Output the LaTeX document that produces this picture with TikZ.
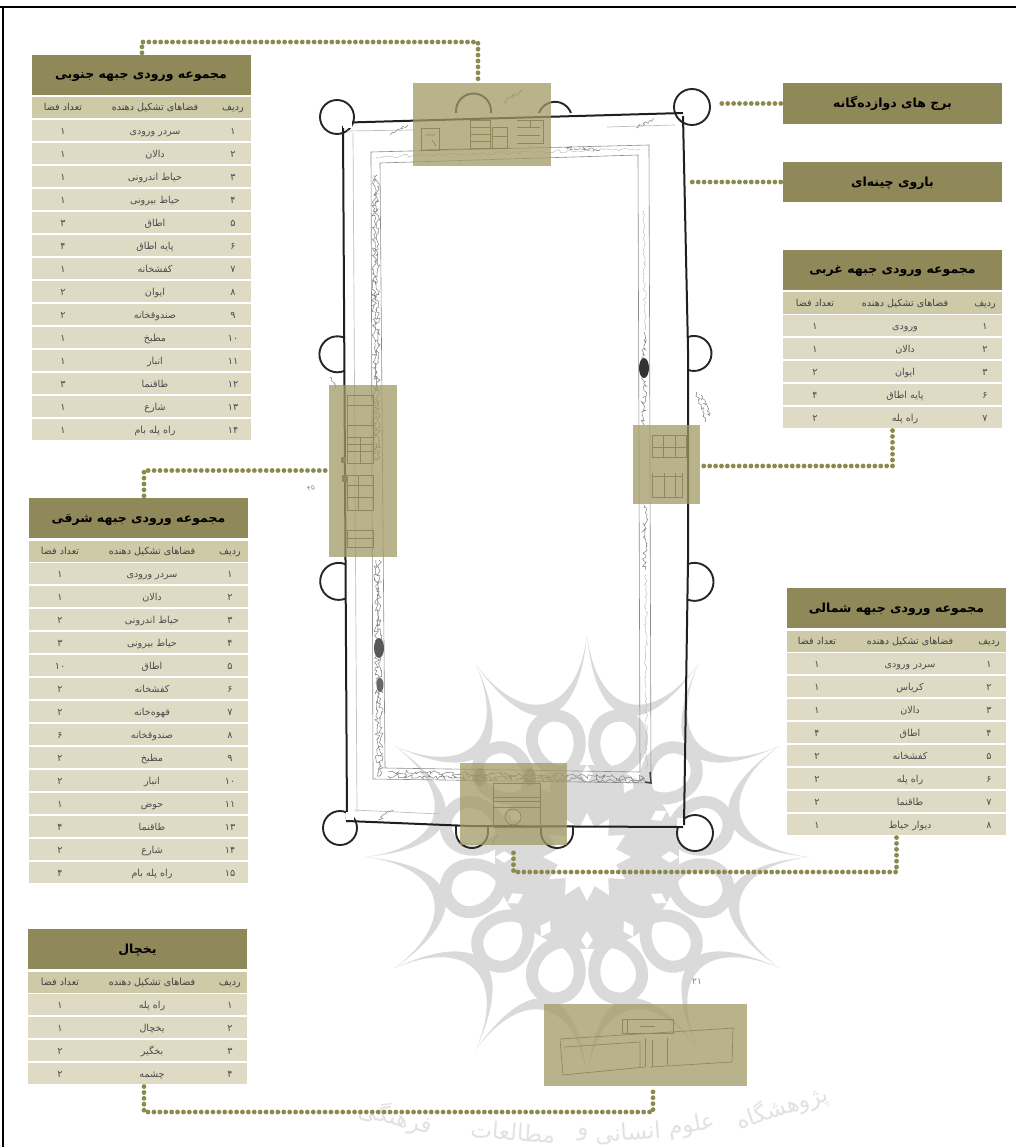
\documentclass[tikz,border=0pt]{standalone}
\usepackage{fontspec}
\usetikzlibrary{decorations.pathmorphing,calc}
\TeXXeTstate=1
\newfontfamily\arabicfont[Script=Arabic]{DejaVu Sans}
\newcommand\fa[1]{{\arabicfont #1}}
\definecolor{titleol}{HTML}{8F8858}
\definecolor{headol}{HTML}{CEC9A7}
\definecolor{rowol}{HTML}{DFDAC4}
\definecolor{hiol}{HTML}{A29A66}
\definecolor{dotol}{HTML}{8B8A4E}
\definecolor{wm}{HTML}{DADADA}
\definecolor{wmt}{HTML}{E2E2E2}
\definecolor{plan}{HTML}{55553A}
\tikzset{
 titlebox/.style={fill=titleol,minimum width=219pt,minimum height=40pt,inner sep=0pt},
 titletxt/.style={inner sep=0pt,anchor=base,text=black,font=\fontsize{12.5}{14}\selectfont\bfseries},
 headbox/.style={fill=headol,minimum width=219pt,minimum height=21pt,inner sep=0pt},
 rowbox/.style={fill=rowol,minimum width=219pt,minimum height=21.3pt,inner sep=0pt},
 headtxt/.style={inner sep=0pt,anchor=base,text=black!75,font=\fontsize{9.6}{11}\selectfont},
 celltxt/.style={inner sep=0pt,anchor=base,text=black!70,font=\fontsize{9.6}{11}\selectfont},
 hibox/.style={fill=hiol,fill opacity=.75,inner sep=0pt},
 dots/.style={draw=dotol,line width=4.8pt,dash pattern=on 0pt off 5.9pt,line cap=round,shorten <=2pt,shorten >=2pt},
 wall/.style={draw=black!88,line width=2pt},
 tower/.style={draw=black!85,line width=1.9pt},
 faint/.style={draw=black!25,line width=.7pt},
 thin wall/.style={draw=black!45,line width=.6pt},
 hatch/.style={draw=black!50,line width=.5pt,decorate,decoration={random steps,segment length=2pt,amplitude=2.6pt}},
 hatchlt/.style={draw=black!28,line width=.4pt,decorate,decoration={random steps,segment length=3pt,amplitude=1.6pt}},
 scrib/.style={draw=black!50,line width=.5pt,decorate,decoration={random steps,segment length=1.8pt,amplitude=1.8pt}},
 planline/.style={draw=plan,line width=.7pt},
 wmw/.style={inner sep=0pt,text=wmt,font=\fontsize{23}{27}\selectfont},
}
\newcommand\ptable[8]{%
 \node[titlebox] (#1t) at (#2,#3+20) {};
 \node[titletxt] (#1tt) at (#2,#3+24) {\fa{#7}};
 \node[headbox] (#1h) at (#2,#3+53) {};
 \node[headtxt] (#1hr) at (#4,#3+56) {\fa{\beginR ردیف\endR}};
 \node[headtxt] (#1hm) at (#5,#3+56) {\fa{\beginR فضاهای تشکیل دهنده\endR}};
 \node[headtxt] (#1hc) at (#6,#3+56) {\fa{\beginR تعداد فضا\endR}};
 \foreach \nm/\lb/\ct [count=\ii] in {#8} {
  \pgfmathsetmacro\yy{#3+65+10.7+23*(\ii-1)}
  \pgfmathsetmacro\yb{\yy+3.4}
  \node[rowbox] (#1r\ii) at (#2,\yy) {};
  \node[celltxt] (#1a\ii) at (#4,\yb) {\fa{\nm}};
  \node[celltxt] (#1b\ii) at (#5,\yb) {\fa{\lb}};
  \node[celltxt] (#1c\ii) at (#6,\yb) {\fa{\ct}};
 }%
}
\begin{document}
\begin{tikzpicture}[x=1pt,y=-1pt]
\pgfmathsetseed{11}
\useasboundingbox (0,0) rectangle (1016,1147);
\clip (0,0) rectangle (1016,1147);
\fill[white] (0,0) rectangle (1016,1147);
% watermark rosette
\begin{scope}[shift={(587,857)}]
 \fill[wm] (0,0) circle (92);
 \foreach \k in {0,...,11}{
  \pgfmathsetmacro\ma{30*\k+15}
  \pgfmathsetmacro\mb{\ma-15}
  \pgfmathsetmacro\mc{\ma+15}
  \pgfmathsetmacro\md{\mb+4}
  \pgfmathsetmacro\me{\mc-4}
  \pgfmathsetmacro\pa{\ma-16}
  \pgfmathsetmacro\pb{\ma+16}
  \pgfmathsetmacro\pc{\ma-14}
  \pgfmathsetmacro\pd{\ma+14}
  \draw[wm,line width=12pt,fill=white,line join=round] (\ma:88) .. controls (\pa:100) and (\pc:146) .. (\ma:146) .. controls (\pd:146) and (\pb:100) .. (\ma:88) -- cycle;
  \fill[wm] (\mb:222) .. controls (\md:143) and (\me:143) .. (\mc:222) .. controls (\me:127) and (\md:127) .. (\mb:222) -- cycle;
 }
 \foreach \k in {0,...,11}{
  \pgfmathsetmacro\ma{30*\k}
  \pgfmathsetmacro\mb{\ma-4}
  \pgfmathsetmacro\mc{\ma+4}
  \fill[white] (\ma:74) -- (\mb:83) -- (\ma:92) -- (\mc:83) -- cycle;
 }
 \fill[white] (0:44)
  \foreach \k in {1,...,24}{ -- ({15*\k}:{mod(\k,2)==0 ? 44 : 30}) } -- cycle;
\end{scope}
\node[wmw,rotate=18] (w1) at (782,1108) {\fa{پژوهشگاه}};
\node[wmw,rotate=10] (w2) at (692,1126) {\fa{علوم}};
\node[wmw,rotate=4] (w3) at (628,1133) {\fa{انسانی}};
\node[wmw] (w4) at (583,1135) {\fa{و}};
\node[wmw,rotate=-4] (w5) at (513,1132) {\fa{مطالعات}};
\node[wmw,rotate=-14] (w6) at (396,1118) {\fa{فرهنگی}};
% frame
\draw[black,line width=2.6pt] (0,7) -- (1016,7);
\draw[black,line width=2.4pt] (3,7) -- (3,1147);
% towers
\node[tower,circle,fill=white,minimum size=34pt,inner sep=0pt] (tTL) at (337,117) {};
\node[tower,circle,fill=white,minimum size=36pt,inner sep=0pt] (tTR) at (692,107) {};
\node[tower,circle,fill=white,minimum size=34pt,inner sep=0pt] (tBL) at (340,828) {};
\node[tower,circle,fill=white,minimum size=36pt,inner sep=0pt] (tBR) at (695,833) {};
\draw[tower] (345,338) arc[start angle=-65,end angle=-295,radius=18] ;
\draw[tower] (345,564) arc[start angle=-70,end angle=-290,radius=18.5];
\draw[tower] (688,337) arc[start angle=-110,end angle=110,radius=17.5];
\draw[tower] (688,564) arc[start angle=-110,end angle=110,radius=19];
\draw[tower] (456,113) -- (456,111) arc[start angle=-180,end angle=0,radius=17.5] -- (491,113);
\draw[tower] (539,113) arc[start angle=-160,end angle=-20,radius=17];
\draw[tower] (456,826) -- (456,832) arc[start angle=180,end angle=0,radius=16] -- (488,826);
\draw[tower] (541,826) -- (541,832) arc[start angle=180,end angle=0,radius=16] -- (573,826);
% outer wall
\draw[wall] (349,122.5) -- (683,113);
\draw[wall] (683,116) -- (688,350) -- (688,560) -- (684,825);
\draw[wall] (343,126) -- (347,822);
\draw[wall] (347,821) -- (470,826) -- (683,827);
\fill[white] (343,118) rectangle (352,128);
\fill[white] (346,812) rectangle (354,820);
\fill[white] (677,818) rectangle (683,826);
% faint wall line
\draw[faint] (347,131) -- (413,130);
\draw[faint] (353,133) -- (357,812);
\draw[faint] (354,810) -- (440,814);
\draw[faint] (607,127) -- (675,125);
% inner wall
\draw[thin wall] (371,152) -- (649,145) -- (651,783) -- (373,779) -- cycle;
\draw[thin wall] (380,163) -- (638,155) -- (640,772) -- (385,768) -- cycle;
\draw[hatch] (374,175) -- (375,460);
\draw[hatch] (377,175) -- (378,460);
\draw[hatch] (376,560) -- (378,775);
\draw[hatch] (379,560) -- (381,775);
\draw[hatch] (388,772) -- (645,778);
\draw[hatch] (388,776) -- (645,781);
\draw[hatchlt] (376,157) -- (640,149);
\draw[hatch] (644,332) -- (644,425);
\draw[hatch] (645,505) -- (645,570);
\draw[hatchlt] (644,210) -- (645,330);
\draw[hatchlt] (646,575) -- (646,770);
\fill[black!80] (644,368) ellipse (5 and 10);
\fill[black!65] (379,648) ellipse (5 and 10);
\fill[black!60] (380,685) ellipse (3.5 and 7);
\draw[black!75,line width=1.5pt] (650,772) -- (651,783) -- (645,782);
% scribbled annotations on the plan
\draw[scrib] (390,135) -- (408,125);
\draw[scrib] (636,128) -- (654,118);
\draw[scrib] (503,103) -- (522,90);
\draw[scrib] (565,148) -- (600,150);
\draw[scrib] (330,377) -- (336,388);
\draw[scrib] (696,392) -- (706,420);
\draw[scrib] (701,395) -- (710,416);
\draw[scrib] (378,820) -- (393,810);
\draw[scrib] (493,845) -- (497,835);
\node[inner sep=0pt,text=black!45,font=\fontsize{7}{8}\selectfont,rotate=20] (nE) at (311,488) {\fa{۴۵}};
\node[inner sep=0pt,text=black!50,font=\fontsize{9}{10}\selectfont] (nY) at (697,982) {\fa{۲۱}};
% north gate plan
\draw[planline] (421,128) rectangle (439,150);
\draw[planline] (421,150) -- (510,148);
\draw[planline] (470,120) rectangle (490,148);
\draw[planline] (470,127) -- (490,127) (470,134) -- (490,134) (470,141) -- (490,141);
\draw[planline] (492,127) rectangle (507,148);
\draw[planline] (492,136) -- (507,136);
\draw[planline] (517,120) -- (543,120) -- (543,143) -- (517,143);
\draw[planline] (517,127) -- (540,127) (517,135) -- (540,135);
\draw[planline] (530,120) -- (530,127);
\draw[planline] (425,135) -- (435,135) (432,140) -- (436,146);
% east gate plan
\draw[planline] (347,395) rectangle (373,437);
\draw[planline] (347,405) -- (373,405) (347,425) -- (373,425);
\draw[planline] (347,437) rectangle (373,463);
\draw[planline] (347,444) -- (373,444) (347,451) -- (373,451) (360,437) -- (360,463);
\draw[planline] (347,475) rectangle (373,510);
\draw[planline] (347,485) -- (373,485) (347,497) -- (373,497) (358,475) -- (358,510);
\draw[planline] (347,530) -- (373,530) -- (373,547) -- (347,547) -- cycle;
\draw[planline] (347,538) -- (373,538);
\fill[plan] (341,457) rectangle (346,463);
\fill[plan] (342,475) rectangle (347,482);
% west gate plan
\draw[planline] (652,435) rectangle (686,457);
\draw[planline] (652,447) -- (686,447) (663,435) -- (663,457) (675,435) -- (675,457);
\draw[planline] (652,473) -- (652,497) -- (682,497) -- (682,473);
\draw[planline] (652,476) -- (682,476) (664,473) -- (664,497) (675,473) -- (675,497);
% north gate bottom plan
\draw[planline] (493,783) rectangle (540,827);
\draw[planline] (493,797) -- (540,797) (493,801) -- (540,801) (493,807) -- (540,807);
\draw[planline] (513,817) circle (8);
\fill[black!55,opacity=.5] (480,777) ellipse (6 and 9);
\fill[black!55,opacity=.5] (530,777) ellipse (6 and 9);
% ice house plan
\draw[planline] (622,1019) rectangle (673,1033);
\draw[planline] (627,1019) -- (627,1033) (640,1026) -- (655,1026);
\draw[planline] (560,1039) -- (734,1028);
\draw[planline] (560,1039) -- (563,1075) -- (645,1067);
\draw[planline] (650,1067) -- (732,1062) -- (733,1028);
\draw[planline] (645,1038) -- (645,1067);
\draw[planline] (564,1047) -- (640,1042) -- (640,1067);
\draw[planline] (652,1040) -- (652,1067) (667,1038) -- (667,1065);
% highlight boxes
\node[hibox,minimum width=138pt,minimum height=83pt] (hiN) at (482,124.5) {};
\node[hibox,minimum width=68pt,minimum height=172pt] (hiL) at (363,471) {};
\node[hibox,minimum width=67pt,minimum height=79pt] (hiR) at (666.5,464.5) {};
\node[hibox,minimum width=107pt,minimum height=82pt] (hiB) at (513.5,804) {};
\node[hibox,minimum width=203pt,minimum height=82pt] (hiY) at (645.5,1045) {};
% tables
\ptable{tS}{141}{55}{233}{155}{63}{\beginR مجموعه ورودی جبهه جنوبی\endR}{۱/\beginR سردر ورودی\endR/۱,۲/دالان/۱,۳/\beginR حیاط اندرونی\endR/۱,۴/\beginR حیاط بیرونی\endR/۱,۵/اطاق/۳,۶/\beginR پایه اطاق\endR/۴,۷/کفشخانه/۱,۸/ایوان/۲,۹/صندوقخانه/۲,۱۰/مطبخ/۱,۱۱/انبار/۱,۱۲/طاقنما/۳,۱۳/شارع/۱,۱۴/\beginR راه پله بام\endR/۱}
\ptable{tE}{138.5}{498}{230}{152}{60}{\beginR مجموعه ورودی جبهه شرقی\endR}{۱/\beginR سردر ورودی\endR/۱,۲/دالان/۱,۳/\beginR حیاط اندرونی\endR/۲,۴/\beginR حیاط بیرونی\endR/۳,۵/اطاق/۱۰,۶/کفشخانه/۲,۷/قهوه‌خانه/۲,۸/صندوقخانه/۶,۹/مطبخ/۲,۱۰/انبار/۲,۱۱/حوض/۱,۱۳/طاقنما/۴,۱۴/شارع/۲,۱۵/\beginR راه پله بام\endR/۴}
\ptable{tW}{892.5}{250}{985}{905}{815}{\beginR مجموعه ورودی جبهه غربی\endR}{۱/ورودی/۱,۲/دالان/۱,۳/ایوان/۲,۶/\beginR پایه اطاق\endR/۴,۷/\beginR راه پله\endR/۲}
\ptable{tN}{896.5}{588}{989}{910}{817}{\beginR مجموعه ورودی جبهه شمالی\endR}{۱/\beginR سردر ورودی\endR/۱,۲/کریاس/۱,۳/دالان/۱,۴/اطاق/۴,۵/کفشخانه/۲,۶/\beginR راه پله\endR/۲,۷/طاقنما/۲,۸/\beginR دیوار حیاط\endR/۱}
\ptable{tY}{137.5}{929}{230}{152}{60}{یخچال}{۱/\beginR راه پله\endR/۱,۲/یخچال/۱,۳/بخگیر/۲,۴/چشمه/۲}
\node[titlebox,minimum height=41pt] (tow) at (892.5,103.5) {};
\node[titletxt] (towt) at (892.5,108) {\fa{\beginR برج های دوازده‌گانه\endR}};
\node[titlebox] (baru) at (892.5,182) {};
\node[titletxt] (barut) at (892.5,186.5) {\fa{\beginR باروی چینه‌ای\endR}};
% connectors
\coordinate (cA) at (0,42);
\coordinate (hiNa) at ([xshift=-4pt]hiN.north);
\draw[dots] ([xshift=1pt]tSt.north) -- ([xshift=1pt]tSt.north |- cA) -- (cA -| hiNa) -- (hiNa);
\coordinate (freeT) at (717,103.5);
\draw[dots] (tow.west) -- (freeT);
\coordinate (freeB) at (688,182);
\draw[dots] (baru.west) -- (freeB);
\coordinate (cD) at (0,466);
\draw[dots] (tWr5.south) -- (tWr5.south |- cD) -- (hiR.east |- cD);
\coordinate (cE) at (0,470.5);
\draw[dots] ([xshift=5.5pt]tEt.north) -- ([xshift=5.5pt]tEt.north |- cE) -- (hiL.west |- cE);
\coordinate (cF) at (0,872);
\draw[dots] (tNr8.south) -- (tNr8.south |- cF) -- (hiB.south |- cF) -- (hiB.south);
\coordinate (cG) at (0,1112);
\coordinate (hiYa) at ([xshift=7.5pt]hiY.south);
\draw[dots] ([xshift=6.5pt]tYr4.south) -- ([xshift=6.5pt]tYr4.south |- cG) -- (hiYa |- cG) -- (hiYa);
\end{tikzpicture}
\end{document}
